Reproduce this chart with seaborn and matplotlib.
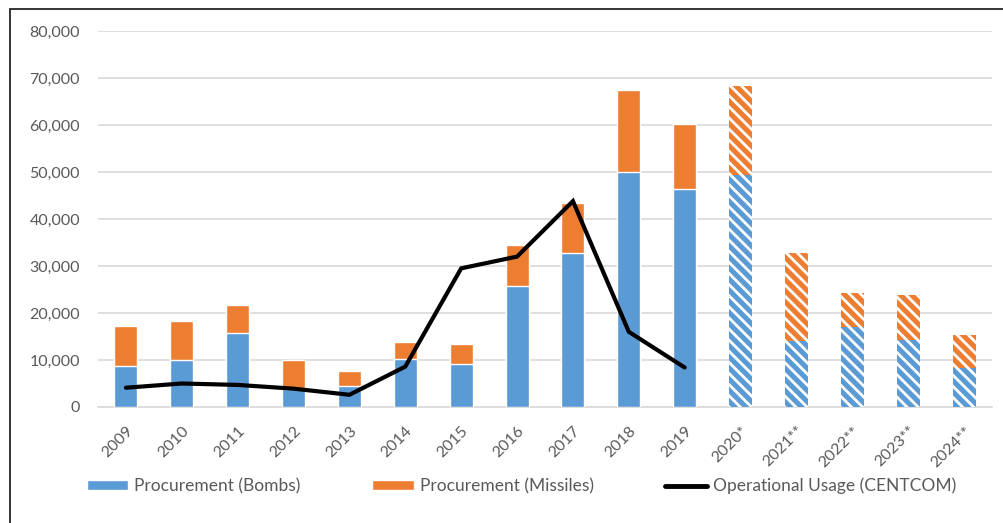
import numpy as np
import pandas as pd
import matplotlib
matplotlib.use('Agg')
import matplotlib.pyplot as plt
import seaborn as sns
from matplotlib.patches import Patch, Rectangle
from matplotlib.lines import Line2D
from matplotlib.ticker import FuncFormatter

# values
years = ['2009', '2010', '2011', '2012', '2013', '2014', '2015', '2016',
         '2017', '2018', '2019', '2020*', '2021**', '2022**', '2023**', '2024**']
bombs = [8800, 10100, 15700, 3900, 4500, 10200, 9100, 25700,
         32800, 50100, 46400, 49400, 14000, 17100, 14300, 8200]
missiles = [8400, 8100, 6100, 6000, 3200, 3600, 4300, 8700,
            10500, 17300, 13900, 19000, 18800, 7200, 9600, 7100]
usage_years = years[:11]
usage = [4100, 5000, 4700, 3900, 2600, 8600, 29500, 32000, 43800, 16000, 8400]
n_projected = 5

blue = '#5B9BD5'
orange = '#ED7D31'
grid_gray = '#D9D9D9'
text_gray = '#595959'

data = pd.DataFrame({'Year': years, 'Bombs': bombs, 'Missiles': missiles})
data['Total'] = data['Bombs'] + data['Missiles']

sns.set_style('white')
plt.rcParams['font.family'] = ['Lato', 'DejaVu Sans']
plt.rcParams['hatch.linewidth'] = 2.0

fig = plt.figure(figsize=(10.04, 5.23), dpi=100)
ax = fig.add_axes([98 / 1004, 1 - 407 / 523, 894 / 1004, 376 / 523])

# stacked bars: totals (orange) first, bombs (blue) on top
sns.barplot(data=data, x='Year', y='Total', color=orange, saturation=1,
            width=0.41, ax=ax, zorder=2)
sns.barplot(data=data, x='Year', y='Bombs', color=blue, saturation=1,
            width=0.41, ax=ax, zorder=3)

# projected years get the white diagonal stripes
n = len(years)
for i, p in enumerate(ax.patches):
    if i % n >= n - n_projected:
        p.set_hatch('\\\\\\')
        p.set_edgecolor('white')
        p.set_linewidth(0)

sns.lineplot(x=np.arange(len(usage)), y=usage, color='black', linewidth=3.0,
             ax=ax, zorder=4, solid_capstyle='round', solid_joinstyle='miter')

ax.set_xlim(-0.5, n - 0.5)
ax.set_ylim(0, 80000)
ax.set_yticks(np.arange(0, 80001, 10000))
ax.yaxis.set_major_formatter(FuncFormatter(lambda v, _: f'{int(v):,}'))
ax.grid(axis='y', color=grid_gray, linewidth=1.2, zorder=0)
ax.set_axisbelow(True)
for s in ['top', 'right', 'left']:
    ax.spines[s].set_visible(False)
ax.spines['bottom'].set_color(grid_gray)
ax.spines['bottom'].set_linewidth(1.2)
ax.set_xlabel('')
ax.set_ylabel('')
ax.tick_params(axis='both', length=0, colors=text_gray, labelsize=11.5)
ax.tick_params(axis='y', pad=13)
ax.tick_params(axis='x', pad=12)
plt.setp(ax.get_xticklabels(), rotation=45, ha='right', rotation_mode='anchor')

handles = [Patch(facecolor=blue, label='Procurement (Bombs)'),
           Patch(facecolor=orange, label='Procurement (Missiles)'),
           Line2D([0], [0], color='black', linewidth=3.5, label='Operational Usage (CENTCOM)')]
leg = fig.legend(handles=handles, loc='center left', bbox_to_anchor=(71 / 1004, 1 - 486 / 523),
                 ncol=3, frameon=False, fontsize=12.5, handlelength=2.4, handleheight=0.5,
                 handletextpad=0.35, columnspacing=4.1)
for t in leg.get_texts():
    t.set_color(text_gray)

# outer chart border
fig.patches.append(Rectangle((10 / 1004, -0.05), 1.2, 1 - 9 / 523 + 0.05,
                             transform=fig.transFigure, fill=False,
                             edgecolor='#262626', linewidth=1.3))

fig.savefig('out.png', dpi=100)
